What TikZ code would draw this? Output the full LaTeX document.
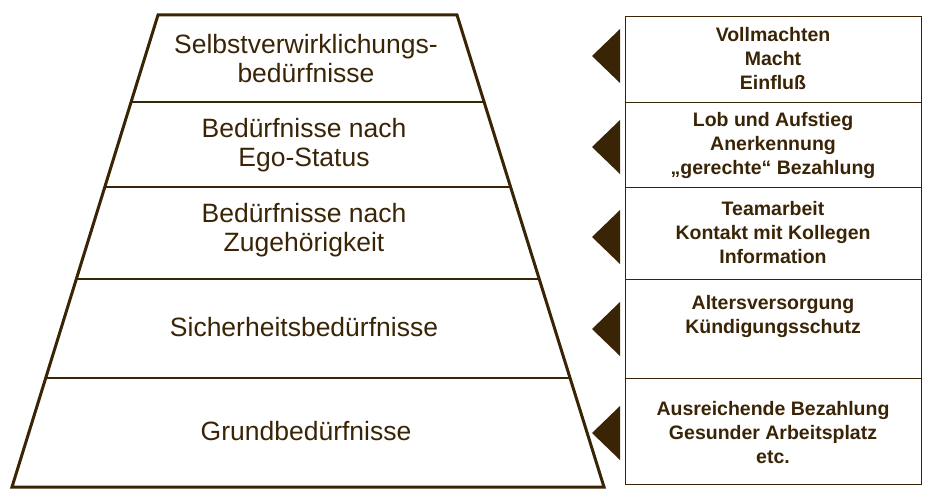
\documentclass[tikz,border=0pt]{standalone}
\usepackage{fontspec}
\setmainfont{Liberation Sans}
\definecolor{brn}{HTML}{3A2406}
\begin{document}
\begin{tikzpicture}[x=1pt,y=-1pt,
  lvl/.style={font=\fontsize{26.5}{29}\selectfont, text=brn, align=center},
  info/.style={font=\fontsize{19.5}{24}\selectfont\bfseries, text=brn, align=center}]
\useasboundingbox (0,0) rectangle (941,503);
\coordinate (tl) at (158,15); \coordinate (tr) at (457,15);
\coordinate (bl) at (12,487); \coordinate (br) at (604,487);
% dividers
\foreach \y in {102,187,279,378}{
  \pgfmathsetmacro{\xl}{158-(146/472)*(\y-15)}
  \pgfmathsetmacro{\xr}{457+(147/472)*(\y-15)}
  \draw[brn, line width=1.2pt] (\xl,\y) -- (\xr,\y);
}
\draw[brn, line width=3pt, line join=miter] (tl) -- (tr) -- (br) -- (bl) -- cycle;
\node[lvl] (l1) at (306,59) {Selbstverwirklichungs-\\bedürfnisse};
\node[lvl] (l2) at (304,145) {Bedürfnisse nach\\Ego-Status};
\node[lvl] (l3) at (304,230) {Bedürfnisse nach\\Zugehörigkeit};
\node[lvl] (l4) at (304,327) {Sicherheitsbedürfnisse};
\node[lvl] (l5) at (306,431) {Grundbedürfnisse};
% boxes
\foreach \a/\b in {17/102,102/187,187/279,279/378,378/484}{
  \draw[brn, line width=1pt] (625,\a) rectangle (921,\b);
}
\node[info] (r1) at (773,59) {Vollmachten\\Macht\\Einfluß};
\node[info] (r2) at (773,145) {Lob und Aufstieg\\Anerkennung\\„gerechte“ Bezahlung};
\node[info] (r3) at (773,233) {Teamarbeit\\Kontakt mit Kollegen\\Information};
\node[info] (r4) at (773,316) {Altersversorgung\\Kündigungsschutz};
\node[info] (r5) at (773,433) {Ausreichende Bezahlung\\Gesunder Arbeitsplatz\\etc.};
% triangles
\foreach \c in {56,147,237,329,433}{
  \fill[brn] (592,\c) -- (620,\c-27) -- (620,\c+27) -- cycle;
}
\end{tikzpicture}
\end{document}
